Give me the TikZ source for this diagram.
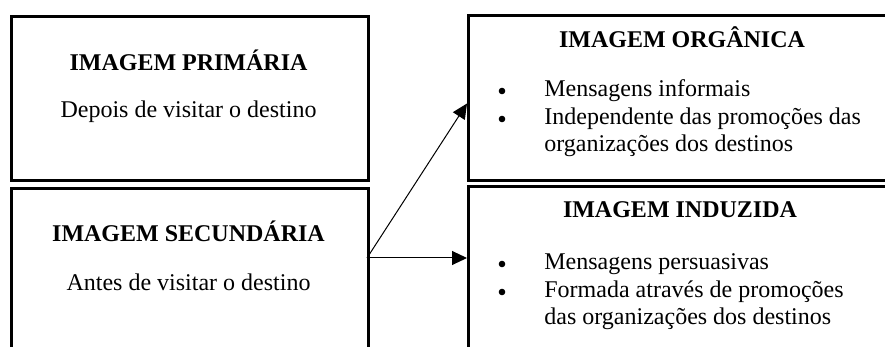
\documentclass[tikz,border=0pt]{standalone}
\usepackage{fontspec}
\setmainfont{Liberation Serif}
\usetikzlibrary{positioning}
\usetikzlibrary{arrows.meta}

\begin{document}
\begin{tikzpicture}[
    x=0.5pt,
    y=-0.5pt,
    every node/.style={
      inner sep=0pt,
      font=\fontsize{12pt}{13.8pt}\selectfont
    },
    caixa/.style={
      rectangle,
      draw,
      line width=1.5pt,
      anchor=north west
    },
    titulo/.style={anchor=base, font=\fontsize{12pt}{13.8pt}\selectfont\bfseries},
    linha/.style={anchor=base},
    item/.style={anchor=base west},
    marca/.style={circle, fill, minimum size=3.3pt},
    >={Triangle[length=7.5pt,width=7pt]},
    ]

    \useasboundingbox (0,0) rectangle (885,347);
    \clip (0,0) rectangle (885,347);

    % caixas
    \node[caixa, minimum width=178.5pt, minimum height=82pt] (primaria) at (10,15) {};
    \node[caixa, minimum width=178.5pt, minimum height=100pt] (secundaria) at (10,187) {};
    \node[caixa, minimum width=214pt, minimum height=82.5pt] (organica) at (467,14) {};
    \node[caixa, minimum width=214pt, minimum height=100pt] (induzida) at (467,185) {};

    % textos da esquerda
    \node[titulo] (tprim) at (188.5,71) {IMAGEM PRIMÁRIA};
    \node[linha] (dprim) at (188.5,118) {Depois de visitar o destino};
    \node[titulo] (tsec) at (188.5,242) {IMAGEM SECUNDÁRIA};
    \node[linha] (dsec) at (188.5,291) {Antes de visitar o destino};

    % textos da direita
    \node[titulo] (torg) at (682,48) {IMAGEM ORGÂNICA};
    \node[titulo] (tind) at (680,218) {IMAGEM INDUZIDA};

    \foreach \y/\t/\n in {97/Mensagens informais/o1,
                          125/Independente das promoções das/o2,
                          152/organizações dos destinos/o3,
                          270/Mensagens persuasivas/i1,
                          298/Formada através de promoções/i2,
                          325/das organizações dos destinos/i3}{
      \node[item] (\n) at (544,\y) {\t};
    }
    \foreach \y/\n in {91/b1,119/b2,264/b3,292/b4}{
      \node[marca] (\n) at (502,\y) {};
    }

    \coordinate (saida) at (367,258);
    \path[->, line width=0.5pt]
    (saida) edge ([yshift=-2.75pt]organica.west)
    (saida) edge (saida -| induzida.west)
    ;
  \end{tikzpicture}
\end{document}
